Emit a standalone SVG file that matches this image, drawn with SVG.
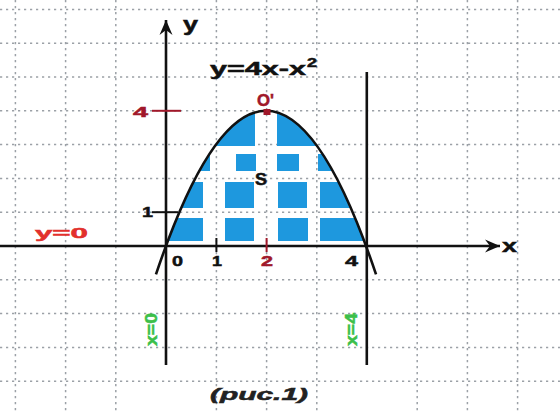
<svg xmlns="http://www.w3.org/2000/svg" width="560" height="412" viewBox="0 0 560 412">
<defs>
<style>
.grid{stroke:#9ca1a7;stroke-width:1.5;stroke-dasharray:2.2 3.8;fill:none}
.ax{stroke:#111;stroke-width:2.6;fill:none}
.t{font-family:"Liberation Sans",Arial,sans-serif;font-weight:bold;fill:#111;stroke:#111;stroke-width:0.5}
.red{fill:#a0182a;stroke:#a0182a}
.bred{fill:#e2302c;stroke:#e2302c}
.grn{fill:#3cbf4a;stroke:#3cbf4a}
.blue{fill:#1e98de}
</style>
<marker id="arr" viewBox="-16 -8 18 16" refX="0" refY="0" markerWidth="18" markerHeight="16" markerUnits="userSpaceOnUse" orient="auto">
<path d="M0,0 L-15,-6.5 L-10,0 L-15,6.5 Z" fill="#111"/>
</marker>
<clipPath id="reg"><path d="M166,246 Q266,-24.4 366.8,246 Z"/></clipPath>
</defs>
<rect width="560" height="412" fill="#fff"/>
<g id="grid" class="grid">
<path d="M0,9.4H560M0,43.2H560M0,77H560M0,110.8H560M0,144.6H560M0,178.4H560M0,212.2H560M0,279.8H560M0,313.6H560M0,347.4H560M0,381.2H560"/>
<path d="M15.4,0V412M65.6,0V412M115.8,0V412M216.4,0V412M266.6,0V412M316.8,0V412M417.2,0V412M467.4,0V412M517.6,0V412"/>
</g>
<g id="shading" clip-path="url(#reg)" class="blue">
<rect x="166" y="108" width="89" height="38"/>
<rect x="277" y="108" width="90" height="38"/>
<rect x="193" y="154" width="17" height="17"/>
<rect x="236" y="154" width="20" height="17"/>
<rect x="277" y="154" width="22" height="17"/>
<rect x="318" y="154" width="32" height="17"/>
<rect x="166" y="182" width="37" height="26"/>
<rect x="225" y="182" width="29" height="26"/>
<rect x="278" y="182" width="29" height="26"/>
<rect x="320" y="182" width="47" height="26"/>
<rect x="166" y="218" width="37" height="23"/>
<rect x="225" y="218" width="29" height="23"/>
<rect x="278" y="218" width="30" height="23"/>
<rect x="320" y="218" width="47" height="23"/>
</g>
<g id="connectors">
<line class="ax" x1="0" y1="246" x2="500" y2="246" marker-end="url(#arr)"/>
<line class="ax" x1="166" y1="365" x2="166" y2="20" marker-end="url(#arr)"/>
<line class="ax" x1="366.8" y1="72" x2="366.8" y2="365"/>
<path class="ax" d="M155.96,274.4 Q266,-52.8 376.04,274.4"/>
<line x1="152" y1="110.8" x2="181" y2="110.8" stroke="#a0182a" stroke-width="2"/>
<line x1="152" y1="212.2" x2="178" y2="212.2" stroke="#111" stroke-width="2"/>
<line x1="216.4" y1="238" x2="216.4" y2="252" stroke="#111" stroke-width="2"/>
<line x1="266.6" y1="238" x2="266.6" y2="252" stroke="#a0182a" stroke-width="2"/>
<rect x="263.5" y="109" width="7" height="6" fill="#a0182a"/>
</g>
<g id="labels">
<text class="t" x="183" y="31" font-size="20" textLength="15" lengthAdjust="spacingAndGlyphs">y</text>
<text class="t" x="210" y="75" font-size="18" textLength="96" lengthAdjust="spacingAndGlyphs">y=4x-x</text>
<text class="t" x="307" y="67" font-size="12" textLength="10" lengthAdjust="spacingAndGlyphs">2</text>
<text class="t red" x="257" y="106" font-size="17" textLength="17" lengthAdjust="spacingAndGlyphs">O'</text>
<text class="t red" x="133" y="117" font-size="14" textLength="15" lengthAdjust="spacingAndGlyphs">4</text>
<text class="t" x="142" y="217" font-size="15" textLength="11" lengthAdjust="spacingAndGlyphs">1</text>
<text class="t" x="255" y="185" font-size="16" textLength="12" lengthAdjust="spacingAndGlyphs">S</text>
<text class="t bred" x="35" y="238" font-size="15" textLength="53" lengthAdjust="spacingAndGlyphs">y=0</text>
<text class="t" x="172" y="266" font-size="15" textLength="11" lengthAdjust="spacingAndGlyphs">0</text>
<text class="t" x="212" y="266" font-size="15" textLength="10" lengthAdjust="spacingAndGlyphs">1</text>
<text class="t red" x="261" y="266" font-size="15" textLength="12" lengthAdjust="spacingAndGlyphs">2</text>
<text class="t" x="345" y="266" font-size="15" textLength="13" lengthAdjust="spacingAndGlyphs">4</text>
<text class="t" x="502" y="252" font-size="18" textLength="15" lengthAdjust="spacingAndGlyphs">x</text>
<text class="t grn" transform="translate(157,346) rotate(-90)" font-size="16" textLength="33" lengthAdjust="spacingAndGlyphs">x=0</text>
<text class="t grn" transform="translate(357,346) rotate(-90)" font-size="16" textLength="33" lengthAdjust="spacingAndGlyphs">x=4</text>
<text class="t" x="210" y="400" font-size="17" font-style="italic" style="fill:#222;stroke:#222" textLength="98" lengthAdjust="spacingAndGlyphs">(рис.1)</text>
</g>
</svg>
